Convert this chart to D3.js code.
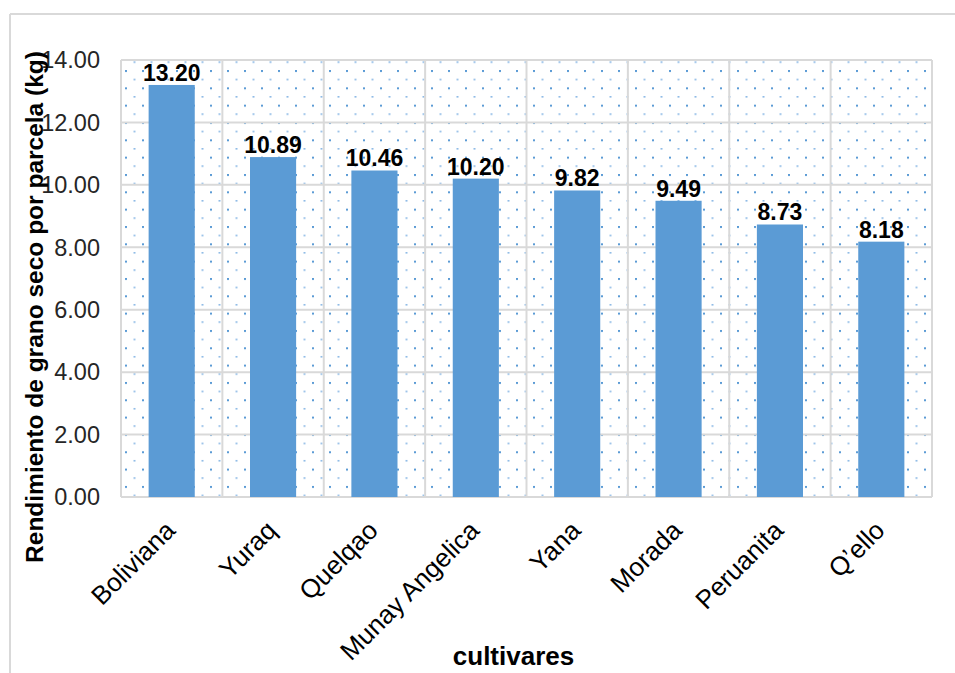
<!DOCTYPE html>
<html>
<head>
<meta charset="utf-8">
<script src="https://cdn.jsdelivr.net/npm/d3@7"></script>
<style>
  html, body { margin: 0; padding: 0; background: #fff; }
  svg { display: block; font-family: "Liberation Sans", Arial, sans-serif; }
</style>
</head>
<body>
<svg id="chart" width="955" height="673"></svg>
<script>
const categories = ["Boliviana", "Yuraq", "Quelqao", "Munay Angelica", "Yana", "Morada", "Peruanita", "Q’ello"];
const values = [13.20, 10.89, 10.46, 10.20, 9.82, 9.49, 8.73, 8.18];
const yTicks = [0, 2, 4, 6, 8, 10, 12, 14];
const yTitle = "Rendimiento de grano seco por parcela (kg)";
const xTitle = "cultivares";

const svg = d3.select("#chart");
const W = 955, H = 673;
const m = { left: 121, right: 23, top: 60, bottom: 176 };
const pw = W - m.left - m.right, ph = H - m.top - m.bottom;

// outer frame (top + left visible)
svg.append("line").attr("x1", 10).attr("x2", W).attr("y1", 14).attr("y2", 14)
  .attr("stroke", "#d9d9d9").attr("stroke-width", 2);
svg.append("line").attr("x1", 10).attr("x2", 10).attr("y1", 14).attr("y2", H)
  .attr("stroke", "#d9d9d9").attr("stroke-width", 2);

// dotted pattern
const defs = svg.append("defs");
const pat = defs.append("pattern").attr("id", "dots").attr("patternUnits", "userSpaceOnUse")
  .attr("width", 17).attr("height", 17.33).attr("x", m.left + 2).attr("y", m.top + 2);
pat.append("rect").attr("x", 0).attr("y", 0).attr("width", 2).attr("height", 2).attr("fill", "#5b9bd5");
pat.append("rect").attr("x", 8.5).attr("y", 8.67).attr("width", 2).attr("height", 1.6).attr("fill", "#8fbbe6");

const g = svg.append("g").attr("transform", `translate(${m.left},${m.top})`);

const x = d3.scaleBand().domain(categories).range([0, pw]).paddingInner(0.545).paddingOuter(0.2725);
const xb = d3.scaleBand().domain(categories).range([0, pw]).padding(0);
const y = d3.scaleLinear().domain([0, 14]).range([ph, 0]);

g.append("rect").attr("width", pw).attr("height", ph).attr("fill", "url(#dots)");

// gridlines
g.selectAll(".hg").data(yTicks).join("line")
  .attr("x1", 0).attr("x2", pw).attr("y1", d => y(d)).attr("y2", d => y(d))
  .attr("stroke", "#d9d9d9").attr("stroke-width", 2);
const vb = categories.map(c => xb(c)).concat([pw]);
g.selectAll(".vg").data(vb).join("line")
  .attr("x1", d => d).attr("x2", d => d).attr("y1", 0).attr("y2", ph)
  .attr("stroke", "#d9d9d9").attr("stroke-width", 2);

// bars
g.selectAll(".bar").data(values).join("rect")
  .attr("x", (d, i) => x(categories[i])).attr("width", x.bandwidth())
  .attr("y", d => y(d)).attr("height", d => ph - y(d))
  .attr("fill", "#5b9bd5");

// data labels
g.selectAll(".lbl").data(values).join("text")
  .attr("x", (d, i) => x(categories[i]) + x.bandwidth() / 2)
  .attr("y", d => y(d) - 4)
  .attr("text-anchor", "middle").attr("font-weight", "bold").attr("font-size", 23)
  .attr("fill", "#000").text(d => d.toFixed(2));

// y axis labels
g.selectAll(".yt").data(yTicks).join("text")
  .attr("x", -21).attr("y", d => y(d)).attr("dy", "0.35em")
  .attr("text-anchor", "end").attr("font-size", 23.5).attr("fill", "#262626")
  .text(d => d.toFixed(2));

// x labels
g.selectAll(".xt").data(categories).join("text")
  .attr("transform", c => `translate(${xb(c) + xb.bandwidth() / 2 + 5},${ph + 35}) rotate(-45)`)
  .attr("text-anchor", "end").attr("font-size", 26).attr("fill", "#000")
  .text(c => c);

// axis titles
svg.append("text")
  .attr("transform", `translate(43,${307}) rotate(-90)`)
  .attr("text-anchor", "middle").attr("font-weight", "bold").attr("font-size", 24.5)
  .text(yTitle);
svg.append("text").attr("x", 513.5).attr("y", 665)
  .attr("text-anchor", "middle").attr("font-weight", "bold").attr("font-size", 26)
  .text(xTitle);
</script>
</body>
</html>
